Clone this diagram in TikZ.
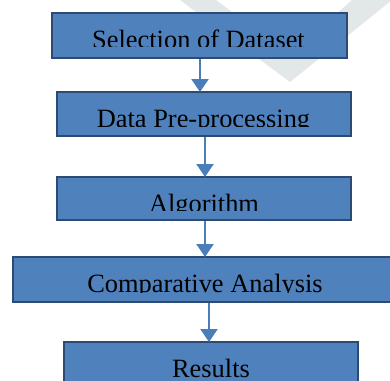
\documentclass[tikz,border=0pt]{standalone}
\usepackage{fontspec}
\setmainfont{Liberation Serif}
\usetikzlibrary{arrows.meta}
\definecolor{boxfill}{HTML}{4F81BD}
\definecolor{boxline}{HTML}{2C4A72}
\definecolor{arrowcol}{HTML}{4A7EBB}
\definecolor{wm}{HTML}{E2E7E7}
\begin{document}
\begin{tikzpicture}[x=1pt,y=-1pt,
  box/.style={draw=boxline,line width=2pt,fill=boxfill,inner sep=0pt,outer sep=0pt},
  lbl/.style={font=\fontsize{26.4}{29}\selectfont,anchor=base,inner sep=0pt,text=black},
  flow/.style={draw=arrowcol,line width=2.2pt,shorten <=1pt,-{Triangle[width=17pt,length=13pt]}}]
\useasboundingbox (0,0) rectangle (390,380);
\clip (0,0) rectangle (390,380);
% faint watermark
\fill[wm] (180,0) -- (216,0) -- (290,55) -- (352,0) -- (392,0) -- (290,82) -- cycle;
% boxes
\node[box,minimum width=295pt,minimum height=45pt] (b1) at (199.5,35.5) {};
\node[box,minimum width=294pt,minimum height=44pt] (b2) at (204,114) {};
\node[box,minimum width=294pt,minimum height=43pt] (b3) at (204,198.5) {};
\node[box,minimum width=384pt,minimum height=45pt] (b4) at (205,279.5) {};
\node[box,minimum width=294pt,minimum height=44pt] (b5) at (211,364) {};
% labels, clipped like the original text boxes
\begin{scope}
  \clip (52,13) rectangle (347,46.7);
  \node[lbl] (t1) at (198.5,48.6) {Selection of Dataset};
\end{scope}
\begin{scope}
  \clip (57,92) rectangle (351,126);
  \node[lbl] (t2) at (203.5,127.2) {Data Pre-processing};
\end{scope}
\begin{scope}
  \clip (57,177) rectangle (351,210);
  \node[lbl] (t3) at (204,212) {Algorithm};
\end{scope}
\begin{scope}
  \clip (13,257) rectangle (390,292);
  \node[lbl] (t4) at (205,292.5) {Comparative Analysis};
\end{scope}
\node[lbl] (t5) at (211,377.2) {Results};
% arrows
\draw[flow] ([xshift=0.5pt]b1.south) -- ([xshift=0.5pt]b1.south |- b2.north);
\draw[flow] ([xshift=1pt]b2.south) -- ([xshift=1pt]b2.south |- b3.north);
\draw[flow] ([xshift=1pt]b3.south) -- ([xshift=1pt]b3.south |- b4.north);
\draw[flow] ([xshift=-2pt]b5.north |- b4.south) -- ([xshift=-2pt]b5.north);
\end{tikzpicture}
\end{document}
